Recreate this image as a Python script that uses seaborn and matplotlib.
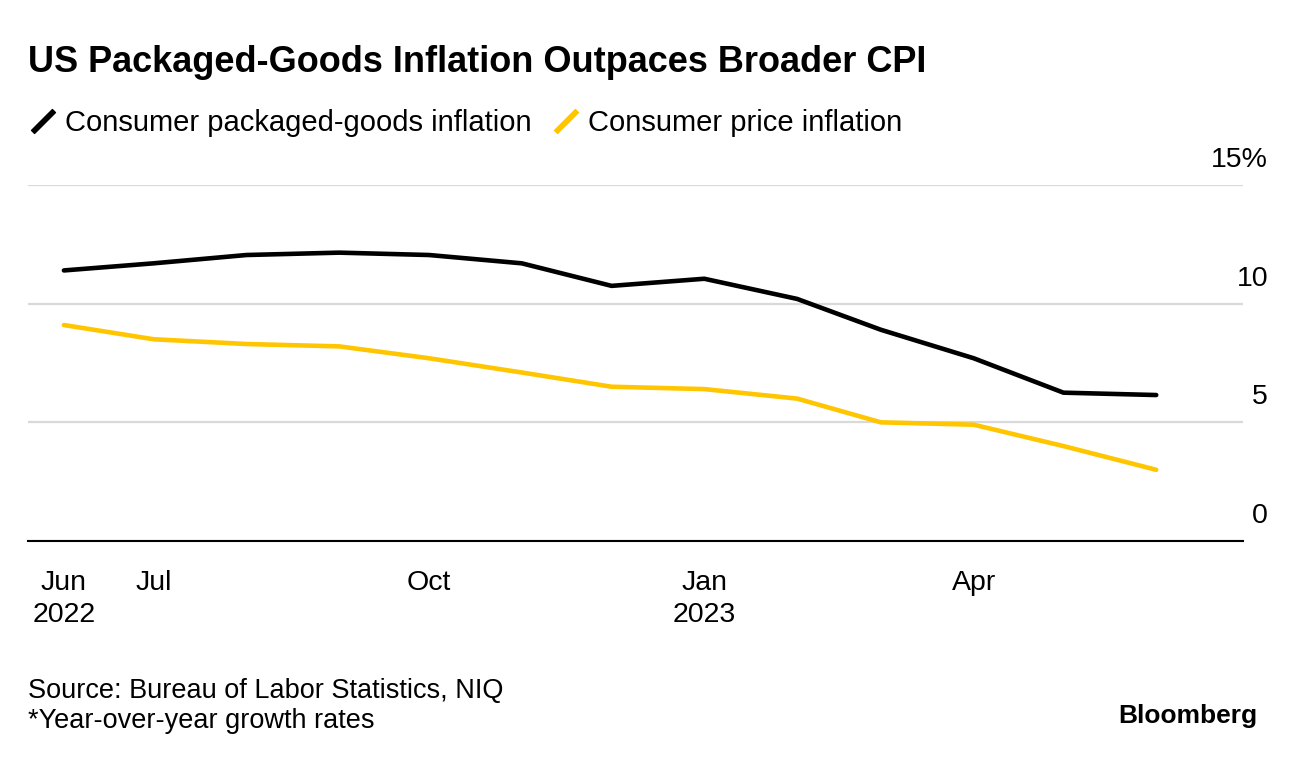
import numpy as np
import pandas as pd
import matplotlib
matplotlib.use("Agg")
import matplotlib.pyplot as plt
from matplotlib.lines import Line2D
import seaborn as sns

# Monthly year-over-year growth rates (%)
months = pd.date_range("2022-06-01", "2023-06-01", freq="MS")
packaged_goods = [11.4, 11.7, 12.05, 12.15, 12.05, 11.7, 10.75, 11.05, 10.2, 8.9, 7.7, 6.25, 6.15]
cpi = [9.1, 8.5, 8.3, 8.2, 7.7, 7.1, 6.5, 6.4, 6.0, 5.0, 4.9, 4.0, 3.0]

series_names = ["Consumer packaged-goods inflation", "Consumer price inflation"]
colors = ["#000000", "#FFC600"]

tick_dates = pd.to_datetime(["2022-06-01", "2022-07-01", "2022-10-01", "2023-01-01", "2023-04-01"])
tick_labels = ["Jun\n2022", "Jul", "Oct", "Jan\n2023", "Apr"]
y_ticks = [0, 5, 10, 15]
y_labels = ["0", "5", "10", "15%"]

# Long-form frame for seaborn
Df = pd.DataFrame({
    "date": list(months) * 2,
    "value": packaged_goods + cpi,
    "series": [series_names[0]] * len(months) + [series_names[1]] * len(months),
})

sns.set_style("white")
plt.rcParams["font.family"] = ["Liberation Sans", "DejaVu Sans"]
plt.rcParams["text.color"] = "black"
plt.rcParams["xtick.color"] = "black"
plt.rcParams["ytick.color"] = "black"

fig = plt.figure(figsize=(12.96, 7.6), dpi=100)
ax = fig.add_axes([28 / 1296, 1 - 541 / 760, (1243 - 28) / 1296, (541 - 185) / 760])

sns.lineplot(data=Df, x="date", y="value", hue="series", palette=colors,
             linewidth=3.3, ax=ax, legend=False, solid_capstyle="round")

# Axis limits
ax.set_ylim(0, 15)
ax.set_xlim(pd.Timestamp("2022-05-20"), pd.Timestamp("2023-06-30"))

# Gridlines
ax.set_yticks(y_ticks)
ax.yaxis.grid(True, color="#d9d9d9", linewidth=1.6)
ax.set_axisbelow(True)
ax.tick_params(axis="y", length=0, labelleft=False, labelright=False)

for v, lbl in zip(y_ticks, y_labels):
    ax.annotate(lbl, xy=(1.0206, v), xycoords=ax.get_yaxis_transform(),
                xytext=(0, 18), textcoords="offset points",
                ha="right", va="center", fontsize=20.5)

# Spines
for s in ["top", "right", "left"]:
    ax.spines[s].set_visible(False)
ax.spines["bottom"].set_color("black")
ax.spines["bottom"].set_linewidth(1.5)

# X ticks
ax.set_xticks(tick_dates)
ax.set_xticklabels(tick_labels, fontsize=20.5, linespacing=1.28)
ax.tick_params(axis="x", direction="out", length=8, width=1.5, color="black", pad=13)
ax.set_xlabel("")
ax.set_ylabel("")

# Title
fig.text(28 / 1296, 1 - 63 / 760, "US Packaged-Goods Inflation Outpaces Broader CPI",
         fontsize=26, fontweight="bold", va="center", ha="left")

# Legend with slanted line markers
handles = [Line2D([], [], color=c, marker=(2, 2, -45), linestyle="None",
                  markersize=22, markeredgewidth=3.8) for c in colors]
fig.legend(handles, series_names, loc="center left", bbox_to_anchor=(15 / 1296, 1 - 123 / 760),
           ncol=2, frameon=False, fontsize=21, handlelength=1.1, handletextpad=0.2,
           columnspacing=0.65, borderaxespad=0)

# Footer
fig.text(28 / 1296, 1 - 691 / 760, "Source: Bureau of Labor Statistics, NIQ",
         fontsize=19.5, va="center", ha="left")
fig.text(28 / 1296, 1 - 721 / 760, "*Year-over-year growth rates",
         fontsize=19.5, va="center", ha="left")
fig.text(1257 / 1296, 1 - 716 / 760, "Bloomberg", fontsize=19, fontweight="bold",
         va="center", ha="right")

fig.savefig("out.png", dpi=100)
